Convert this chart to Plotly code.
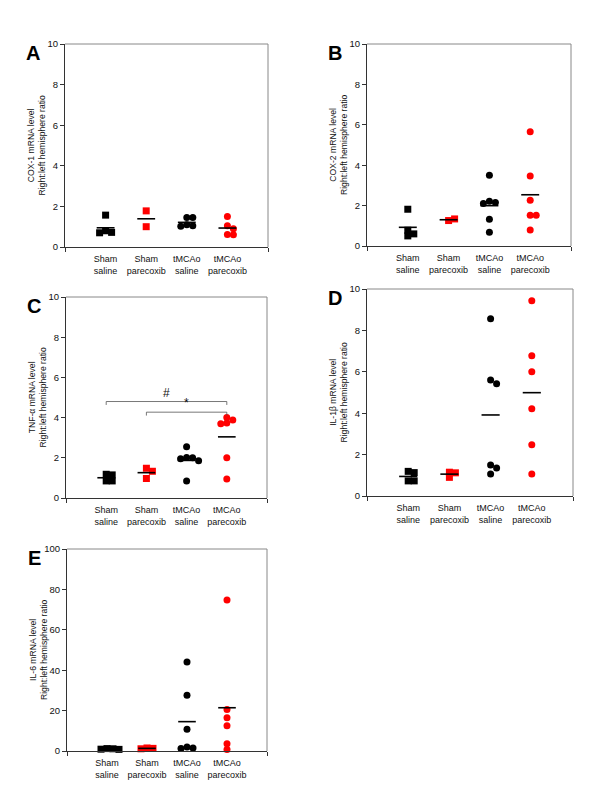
"""Scatter panels of mRNA right:left hemisphere ratios (A-E) with group means."""

import numpy as np
import plotly.graph_objects as go

groups = ["Sham<br>saline", "Sham<br>parecoxib", "tMCAo<br>saline", "tMCAo<br>parecoxib"]
group_colors = ["black", "red", "black", "red"]
group_symbols = ["square", "square", "circle", "circle"]

# values per group
cox1 = [
    [1.57, 0.8, 0.72, 0.7],
    [1.78, 1.0],
    [1.45, 1.45, 1.1, 1.05, 1.02],
    [1.5, 1.05, 0.9, 0.62, 0.6],
]
cox2 = [
    [1.82, 0.78, 0.6, 0.5],
    [1.26, 1.34],
    [3.5, 2.22, 2.15, 2.1, 1.33, 0.68],
    [5.65, 3.47, 2.27, 1.52, 1.52, 0.79],
]
tnfa = [
    [1.18, 1.15, 0.85, 0.85],
    [1.48, 1.33, 0.97],
    [2.55, 2.02, 2.0, 1.95, 1.85, 0.85],
    [4.0, 3.88, 3.73, 3.7, 2.0, 0.94],
]
il1b = [
    [1.19, 1.13, 0.73, 0.73],
    [1.15, 1.12, 0.9],
    [8.56, 5.6, 5.42, 1.5, 1.35, 1.06],
    [9.43, 6.77, 6.0, 4.22, 2.47, 1.06],
]
il6 = [
    [1.2, 1.1, 0.9, 0.8],
    [1.5, 1.3, 1.1],
    [44.1, 27.6, 10.8, 2.0, 1.5, 1.2],
    [74.7, 20.5, 16.4, 12.5, 3.6, 0.8],
]

# significance brackets in panel C: (from group, to group, level, symbol)
tnfa_brackets = [(0, 3, 4.8, "#"), (1, 3, 4.27, "*")]

panels = [
    dict(letter="A", data=cox1, ylab="COX-1 mRNA level", ymax=10, dtick=2,
         box=(65, 268, 44, 247), brackets=[]),
    dict(letter="B", data=cox2, ylab="COX-2 mRNA level", ymax=10, dtick=2,
         box=(367, 571, 44, 246), brackets=[]),
    dict(letter="C", data=tnfa, ylab="TNF-\u03b1 mRNA level", ymax=10, dtick=2,
         box=(66, 267, 297, 498), brackets=tnfa_brackets),
    dict(letter="D", data=il1b, ylab="IL-1\u03b2 mRNA level", ymax=10, dtick=2,
         box=(367, 573, 289, 496), brackets=[]),
    dict(letter="E", data=il6, ylab="IL-6 mRNA level", ymax=100, dtick=20,
         box=(67, 267, 549, 751), brackets=[]),
]

W, H = 600, 808
OFF = 8  # the page body adds an 8px margin, so pull everything back by that much
FONT = "Arial, Liberation Sans, sans-serif"
XMAX = 5
DIAM = 7


def swarm(values, px_x, px_y):
    """Spread overlapping points sideways (offsets in data units)."""
    placed = []
    out = []
    for v in values:
        k = 0
        while True:
            cands = [0] if k == 0 else [k * 3, -k * 3]
            chosen = None
            for c in cands:
                ok = all(np.hypot(c - o, (v - pv) * px_y) >= DIAM * 0.7 for o, pv in placed)
                if ok:
                    chosen = c
                    break
            if chosen is not None:
                break
            k += 1
        placed.append((chosen, v))
        out.append(chosen / px_x)
    return out


def px(x, y):
    """Page pixel -> paper coordinates."""
    return (x - OFF) / W, 1 - (y - OFF) / H


fig = go.Figure()
shapes = []
annotations = []
layout = {}

for n, p in enumerate(panels, start=1):
    x0, x1, y0, y1 = p["box"]
    xa = "x" if n == 1 else f"x{n}"
    ya = "y" if n == 1 else f"y{n}"
    px_x = (x1 - x0) / XMAX
    px_y = (y1 - y0) / p["ymax"]

    for g, vals in enumerate(p["data"]):
        offs = swarm(vals, px_x, px_y)
        fig.add_trace(go.Scatter(
            x=[g + 1 + o for o in offs], y=vals, mode="markers",
            marker=dict(symbol=group_symbols[g], color=group_colors[g], size=DIAM,
                        line=dict(width=0)),
            cliponaxis=False, showlegend=False, xaxis=xa, yaxis=ya,
        ))
        m = float(np.mean(vals))
        fig.add_trace(go.Scatter(
            x=[g + 1 - 0.22, g + 1 + 0.22], y=[m, m], mode="lines",
            line=dict(color="black", width=1.6),
            showlegend=False, xaxis=xa, yaxis=ya,
        ))

    for ga, gb, lev, sym in p["brackets"]:
        drop = p["ymax"] * 0.017
        fig.add_trace(go.Scatter(
            x=[ga + 1, ga + 1, gb + 1, gb + 1], y=[lev - drop, lev, lev, lev - drop],
            mode="lines", line=dict(color="#555", width=0.8),
            showlegend=False, xaxis=xa, yaxis=ya,
        ))
        annotations.append(dict(
            x=(ga + gb) / 2 + 1, y=lev, xref=xa, yref=ya, text=sym, showarrow=False,
            xanchor="center", yanchor="bottom", font=dict(size=12, color="#111", family=FONT),
        ))

    left, top = px(x0, y0)
    right, bottom = px(x1, y1)
    layout["xaxis" if n == 1 else f"xaxis{n}"] = dict(
        domain=[left, right], anchor=ya, range=[0, XMAX], showgrid=False, zeroline=False,
        showline=True, linecolor="#333", linewidth=1, automargin=False,
        tickvals=[1, 2, 3, 4], ticktext=groups, ticks="", ticklabelstandoff=3,
        minor=dict(tickvals=[0, XMAX], ticks="outside", ticklen=4, tickcolor="#333"),
        tickfont=dict(size=9, color="#111", family=FONT), fixedrange=True,
    )
    layout["yaxis" if n == 1 else f"yaxis{n}"] = dict(
        domain=[bottom, top], anchor=xa, range=[0, p["ymax"]], dtick=p["dtick"],
        showgrid=False, zeroline=False, showline=True, linecolor="#333", linewidth=1,
        ticks="outside", ticklen=4, tickcolor="#333", automargin=False,
        tickfont=dict(size=9.5, color="#111", family=FONT), fixedrange=True,
    )

    # grey top and right frame
    shapes.append(dict(type="line", xref=f"{xa} domain", yref=f"{ya} domain",
                       x0=0, x1=1, y0=1, y1=1, line=dict(color="#888", width=1)))
    shapes.append(dict(type="line", xref=f"{xa} domain", yref=f"{ya} domain",
                       x0=1, x1=1, y0=0, y1=1, line=dict(color="#888", width=1)))

    tx, ty = px(x0 - 29, (y0 + y1) / 2)
    annotations.append(dict(
        x=tx, y=ty, xref="paper", yref="paper", xanchor="center", yanchor="middle",
        text=f"{p['ylab']}<br>Right:left hemisphere ratio", textangle=-90,
        showarrow=False, font=dict(size=8.6, color="#111", family=FONT),
    ))
    lx, ly = px(x0 - 41, y0 - 4)
    annotations.append(dict(
        x=lx, y=ly, xref="paper", yref="paper",
        text=f"<b>{p['letter']}</b>", showarrow=False, xanchor="left", yanchor="top",
        font=dict(size=20, color="black", family=FONT),
    ))

fig.update_layout(
    width=W, height=H, autosize=False,
    margin=dict(l=0, r=0, t=0, b=0, pad=0, autoexpand=False),
    paper_bgcolor="white", plot_bgcolor="white",
    showlegend=False, shapes=shapes, annotations=annotations,
    font=dict(family=FONT),
    **layout,
)

fig.write_html("out.html")
